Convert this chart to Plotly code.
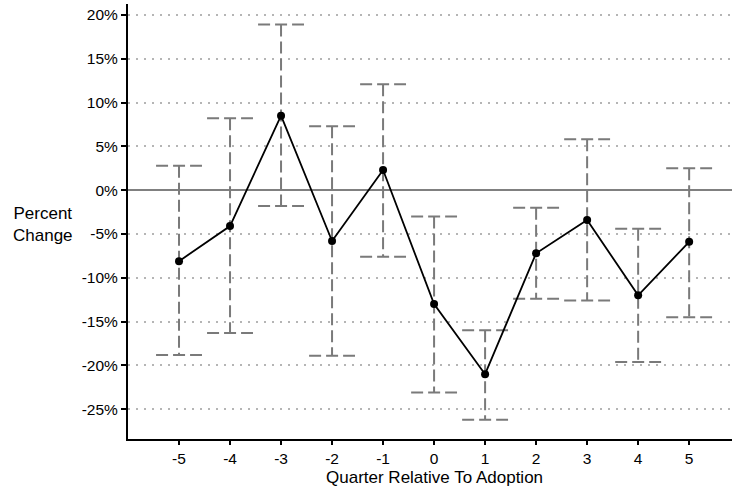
import plotly.graph_objects as go

quarters = [-5, -4, -3, -2, -1, 0, 1, 2, 3, 4, 5]
estimate = [-8.1, -4.1, 8.5, -5.8, 2.3, -13.0, -21.0, -7.2, -3.4, -12.0, -5.9]
upper = [2.8, 8.2, 18.9, 7.3, 12.1, -3.0, -16.0, -2.0, 5.8, -4.4, 2.5]
lower = [-18.8, -16.3, -1.8, -18.9, -7.6, -23.1, -26.2, -12.4, -12.6, -19.6, -14.5]
y_ticks = [-25, -20, -15, -10, -5, 0, 5, 10, 15, 20]
y_labels = [f"{v}%" for v in y_ticks]
x_ticks = quarters
x_labels = [str(v) for v in x_ticks]

cap = 0.45
ex, ey = [], []
for q, lo, hi in zip(quarters, lower, upper):
    ex += [q, q, None, q - cap, q + cap, None, q - cap, q + cap, None]
    ey += [hi, lo, None, hi, hi, None, lo, lo, None]

fig = go.Figure()
fig.add_trace(go.Scatter(x=ex, y=ey, mode="lines",
                         line=dict(color="#7a7a7a", width=2, dash="12px,5px"),
                         hoverinfo="skip", showlegend=False))
fig.add_trace(go.Scatter(x=quarters, y=estimate, mode="lines+markers",
                         line=dict(color="black", width=1.8),
                         marker=dict(color="black", size=8),
                         showlegend=False))

font = "Liberation Sans, Arial, Helvetica, sans-serif"
fig.update_layout(
    width=732, height=487,
    margin=dict(l=128, r=0, t=4, b=48),
    paper_bgcolor="white", plot_bgcolor="white",
    font=dict(family=font, size=15.5, color="black"),
    xaxis=dict(range=[-6.0, 5.84], tickmode="array", tickvals=x_ticks, ticktext=x_labels,
               showgrid=False, zeroline=False, showline=True, linecolor="black",
               linewidth=2, ticks="outside", ticklen=4, tickwidth=2, tickcolor="black",
               automargin=False),
    yaxis=dict(range=[-28.4, 21.25], tickmode="array", tickvals=y_ticks, ticktext=y_labels,
               showgrid=True, gridcolor="#b5b5b5", gridwidth=2, griddash="2px,6px",
               zeroline=True, zerolinecolor="#808080", zerolinewidth=2,
               showline=True, linecolor="black", linewidth=2,
               ticks="outside", ticklen=5, tickwidth=2, tickcolor="black",
               automargin=False),
    annotations=[
        dict(text="Percent<br>Change", xref="paper", yref="paper",
             x=-0.14, y=0.492, showarrow=False, align="center",
             xanchor="center", yanchor="middle", font=dict(size=17)),
        dict(text="Quarter Relative To Adoption", xref="paper", yref="paper",
             x=0.507, y=-0.088, showarrow=False, xanchor="center", yanchor="middle",
             font=dict(size=17)),
    ],
)
fig.write_html("out.html", config={"displayModeBar": False},
               post_script="document.body.style.margin='0';")
